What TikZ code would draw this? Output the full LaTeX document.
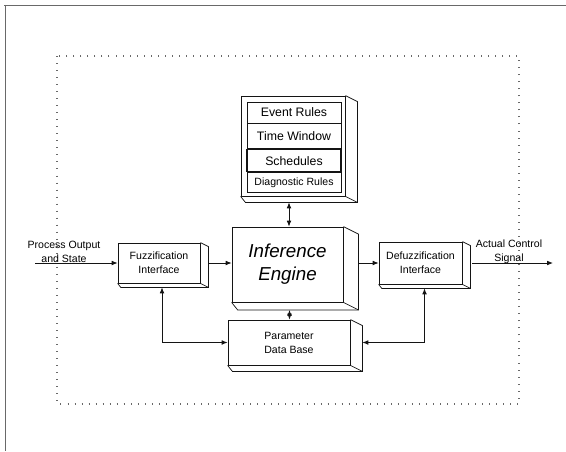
\documentclass[tikz,border=0pt]{standalone}
\usepackage{fontspec}
\setmainfont{Liberation Sans}
\usetikzlibrary{arrows.meta,positioning,calc}
\definecolor{inkBlack}{RGB}{20, 20, 20}
\definecolor{frameGrey}{RGB}{105, 105, 105}

\tikzset{
  slab/.style={draw=inkBlack, line width=0.7pt, fill=white, align=center, inner sep=2pt},
  rulebox/.style={draw=inkBlack, line width=0.6pt, minimum width=2.82cm, inner sep=1pt, font=\fontsize{10.5pt}{12pt}\selectfont},
  flow/.style={-{Latex[length=5pt,width=4pt]}, line width=0.7pt, draw=inkBlack},
  duplex/.style={{Latex[length=5pt,width=4pt]}-{Latex[length=5pt,width=4pt]}, line width=0.7pt, draw=inkBlack},
  siglabel/.style={font=\fontsize{9pt}{11.5pt}\selectfont, align=center, inner sep=1pt},
}

% right and bottom faces of a raised block
\newcommand{\slabdepth}[2]{%
  \draw[inkBlack, line width=0.6pt] (#1.north east) -- ++(#2,0.5*#2) -- ($(#1.south east)+(#2,0.5*#2)$) -- ($(#1.south west)+(0.4*#2,0.5*#2)$) -- (#1.south west);
  \draw[inkBlack, line width=0.6pt] (#1.south east) -- ++(#2,0.5*#2);
}

\begin{document}
\begin{tikzpicture}[x=0.03cm, y=-0.03cm]
  \useasboundingbox (0,0) rectangle (566,451);

  % page edge and the dotted boundary
  \draw[frameGrey, line width=0.6pt] (4,5) -- (566,5);
  \draw[frameGrey, line width=0.6pt] (5,5) -- (5,451);
  \draw[frameGrey, line width=0.9pt, dash pattern=on 0.8pt off 5.2pt] (57,56) rectangle (519,404);

  % rule base
  \node[slab, minimum width=3.12cm, minimum height=3cm] (rules) at (293,146) {};
  \node[rulebox, minimum height=0.63cm] (ev) at (294,112.5) {Event Rules};
  \node[rulebox, minimum height=0.75cm, below=0pt of ev] (tw) {Time Window};
  \node[rulebox, minimum height=0.66cm, below=0pt of tw, line width=1.1pt] (sch) {Schedules};
  \node[rulebox, minimum height=0.6cm, below=0pt of sch, font=\fontsize{9pt}{10pt}\selectfont] (diag) {Diagnostic Rules};
  \slabdepth{rules}{12}

  % main blocks
  \node[slab, minimum width=3.33cm, minimum height=2.25cm, font=\fontsize{16pt}{19.5pt}\selectfont\itshape] (ie) at (287.5,264.5) {Inference\\Engine};
  \slabdepth{ie}{15}
  \node[slab, minimum width=2.46cm, minimum height=1.2cm, font=\fontsize{9pt}{12pt}\selectfont] (fuzz) at (159,263) {Fuzzification\\Interface};
  \slabdepth{fuzz}{8}
  \node[slab, minimum width=2.49cm, minimum height=1.26cm, font=\fontsize{9pt}{12pt}\selectfont] (defuzz) at (420.5,263) {Defuzzification\\Interface};
  \slabdepth{defuzz}{8}
  \node[slab, minimum width=3.66cm, minimum height=1.35cm, font=\fontsize{9pt}{12pt}\selectfont] (pdb) at (289,342.5) {Parameter\\Data Base};
  \slabdepth{pdb}{12}

  % signals in and out
  \coordinate (pin) at (35,263);
  \coordinate (pout) at (553,263);
  \node[siglabel] (inlbl) at (64,252) {Process Output\\and State};
  \node[siglabel] (outlbl) at (509,252) {Actual Control\\Signal};

  \draw[flow] (pin) -- (pin -| fuzz.west);
  \draw[flow] ($(fuzz.east)+(8,0)$) -- (fuzz.east -| ie.west);
  \draw[flow] ($(ie.east)+(15,-1.5)$) -- ($(defuzz.west)+(0,0)$);
  \draw[flow] ($(defuzz.east)+(10,0)$) -- (pout);

  \draw[duplex] ($(rules.south)+(-4,6)$) coordinate (rb) -- (rb |- ie.north);
  \draw[duplex] ($(ie.south)+(2,7.5)$) coordinate (ib) -- (ib |- pdb.north);
  \draw[duplex] ($(fuzz.south)+(3,4)$) |- (pdb.west);
  \draw[duplex] ($(defuzz.south)+(4,4)$) |- ($(pdb.east)+(12,0)$);
\end{tikzpicture}
\end{document}
